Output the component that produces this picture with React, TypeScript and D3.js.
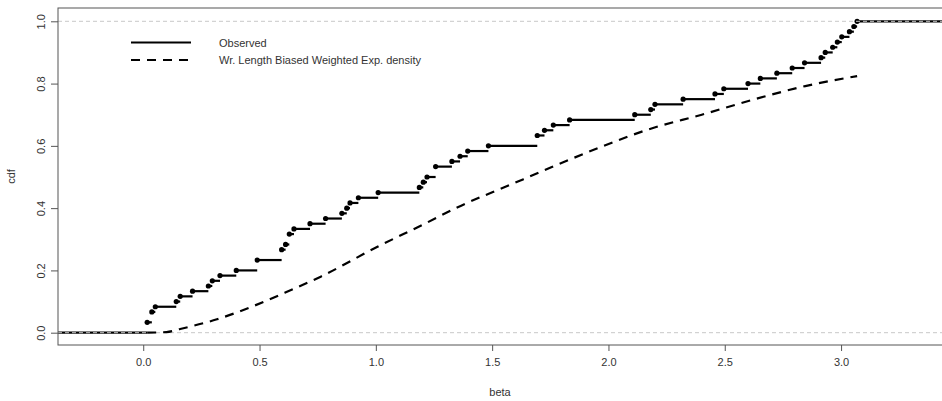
import { useEffect, useRef } from "react";
import * as d3 from "d3";

// observed jump points (beta) and the ecdf level reached there (n = 60)
const jumpBeta = [
  0.017, 0.037, 0.052, 0.142, 0.159, 0.212, 0.28, 0.297, 0.33, 0.4,
  0.49, 0.595, 0.612, 0.628, 0.648, 0.717, 0.784, 0.854, 0.875, 0.889,
  0.925, 1.01, 1.187, 1.204, 1.22, 1.257, 1.327, 1.362, 1.395, 1.484,
  1.694, 1.725, 1.763, 1.833, 2.113, 2.182, 2.2, 2.321, 2.458, 2.496,
  2.6, 2.653, 2.724, 2.79, 2.843, 2.914, 2.932, 2.964, 2.984, 3.003,
  3.036, 3.055, 3.069,
];
const jumpCdf = [
  2, 4, 5, 6, 7, 8, 9, 10, 11, 12,
  14, 16, 17, 19, 20, 21, 22, 23, 24, 25,
  26, 27, 28, 29, 30, 32, 33, 34, 35, 36,
  38, 39, 40, 41, 42, 43, 44, 45, 46, 47,
  48, 49, 50, 51, 52, 53, 54, 55, 56, 57,
  58, 59, 60,
].map((k) => k / 60);

// fitted cdf (weighted length biased exp.)
const fitBeta = [0.017, 0.1, 0.159, 0.317, 0.475, 0.605, 0.763, 1.007, 1.208, 1.352, 1.575, 1.754, 1.969, 2.185, 2.401, 2.63, 2.846, 3.069];
const fitCdf = [0, 0.002, 0.012, 0.043, 0.086, 0.127, 0.18, 0.276, 0.349, 0.403, 0.474, 0.531, 0.597, 0.656, 0.7, 0.75, 0.792, 0.824];

const xTicks = [0, 0.5, 1, 1.5, 2, 2.5, 3];
const yTicks = [0, 0.2, 0.4, 0.6, 0.8, 1];
const legendLabels = ["Observed", "Wr. Length Biased Weighted Exp. density"];

const App = () => {
  const ref = useRef<SVGSVGElement | null>(null);

  useEffect(() => {
    const W = 942, H = 401;
    const left = 58, top = 8, right = 944, bottom = 345;
    const font = "'Liberation Sans', Arial, sans-serif";

    const x = d3.scaleLinear().domain([-0.3664, 3.4425]).range([left, right]);
    const y = d3.scaleLinear().domain([0, 1]).range([332.7, 21.3]);

    const svg = d3.select(ref.current);
    svg.selectAll("*").remove();
    svg.attr("width", W).attr("height", H);

    // ecdf horizontal segments
    const segs: [number, number, number][] = [];
    segs.push([x.domain()[0] - 1, jumpBeta[0], 0]);
    jumpBeta.forEach((b, i) => {
      const next = i < jumpBeta.length - 1 ? jumpBeta[i + 1] : x.domain()[1] + 1;
      segs.push([b, next, jumpCdf[i]]);
    });

    const plot = svg.append("g");
    plot.append("clipPath").attr("id", "clip")
      .append("rect").attr("x", left).attr("y", top).attr("width", right - left).attr("height", bottom - top);
    const g = plot.append("g").attr("clip-path", "url(#clip)");

    g.selectAll("line.step")
      .data(segs)
      .enter()
      .append("line")
      .attr("class", "step")
      .attr("x1", (d) => x(d[0]))
      .attr("x2", (d) => x(d[1]))
      .attr("y1", (d) => y(d[2]))
      .attr("y2", (d) => y(d[2]))
      .attr("stroke", "#000")
      .attr("stroke-width", 2.2);

    g.selectAll("circle.pt")
      .data(jumpBeta)
      .enter()
      .append("circle")
      .attr("class", "pt")
      .attr("cx", (d) => x(d))
      .attr("cy", (d, i) => y(jumpCdf[i]))
      .attr("r", 2.6)
      .attr("fill", "#000");

    // reference lines at 0 and 1
    [0, 1].forEach((v) => {
      g.append("line")
        .attr("x1", left).attr("x2", right)
        .attr("y1", y(v)).attr("y2", y(v))
        .attr("stroke", "#c8c8c8")
        .attr("stroke-width", 1)
        .attr("stroke-dasharray", "4,3");
    });

    const line = d3.line<number>()
      .x((d) => x(d))
      .y((d, i) => y(fitCdf[i]))
      .curve(d3.curveMonotoneX);

    g.append("path")
      .attr("d", line(fitBeta))
      .attr("fill", "none")
      .attr("stroke", "#000")
      .attr("stroke-width", 2.2)
      .attr("stroke-dasharray", "9,7");

    // frame
    svg.append("rect")
      .attr("x", left).attr("y", top)
      .attr("width", right - left).attr("height", bottom - top)
      .attr("fill", "none").attr("stroke", "#555").attr("stroke-width", 1);

    // x axis
    const xa = svg.append("g").attr("transform", `translate(0,${bottom})`)
      .call(d3.axisBottom(x).tickValues(xTicks).tickFormat(d3.format(".1f")).tickSize(6).tickPadding(7));
    xa.select(".domain").remove();
    xa.selectAll("line").attr("stroke", "#555");
    xa.selectAll("text").attr("font-family", font).attr("font-size", 11).attr("fill", "#333");

    // y axis
    const ya = svg.append("g").attr("transform", `translate(${left},0)`)
      .call(d3.axisLeft(y).tickValues(yTicks).tickFormat(d3.format(".1f")).tickSize(7).tickPadding(0));
    ya.select(".domain").remove();
    ya.selectAll("line").attr("stroke", "#555");
    ya.selectAll("text")
      .attr("font-family", font).attr("font-size", 11).attr("fill", "#333")
      .attr("text-anchor", "middle")
      .attr("x", 0).attr("dy", 0)
      .attr("transform", "translate(-17,0) rotate(-90)")
      .attr("y", 0)
      .attr("dominant-baseline", "auto");
    ya.selectAll(".tick text").attr("transform", "translate(-17,0) rotate(-90)").attr("dy", "0.35em");

    svg.append("text")
      .attr("x", (left + right) / 2 - 1).attr("y", 396)
      .attr("text-anchor", "middle")
      .attr("font-family", font).attr("font-size", 11).attr("fill", "#333")
      .text("beta");
    svg.append("text")
      .attr("transform", `translate(15,${(top + bottom) / 2}) rotate(-90)`)
      .attr("text-anchor", "middle")
      .attr("font-family", font).attr("font-size", 11).attr("fill", "#333")
      .text("cdf");

    // legend
    const lg = svg.append("g");
    legendLabels.forEach((lab, i) => {
      const yy = 42.5 + i * 17.5;
      lg.append("line")
        .attr("x1", 131).attr("x2", 191).attr("y1", yy).attr("y2", yy)
        .attr("stroke", "#000").attr("stroke-width", 2.2)
        .attr("stroke-dasharray", i === 0 ? null : "9,7");
      lg.append("text")
        .attr("x", 219).attr("y", yy + 4)
        .attr("font-family", font).attr("font-size", 11).attr("fill", "#333")
        .text(lab);
    });
  }, []);

  return (
    <div style={{ position: "absolute", left: 0, top: 0 }}>
      <svg ref={ref} style={{ display: "block" }} />
    </div>
  );
};

export default App;
